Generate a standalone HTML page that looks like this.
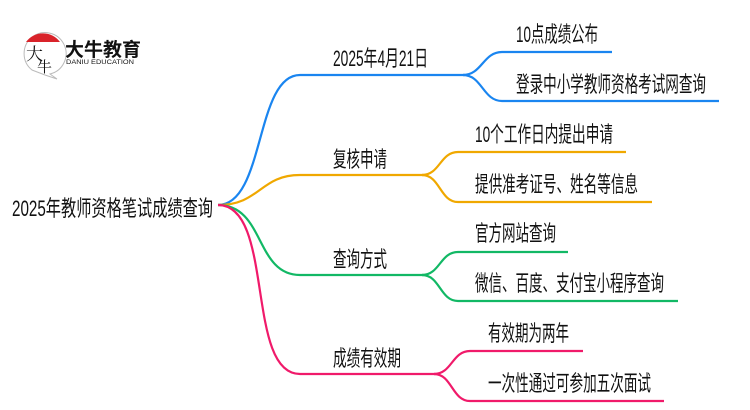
<!DOCTYPE html>
<html><head><meta charset="utf-8"><style>
html,body{margin:0;padding:0;background:#fff;width:750px;height:410px;overflow:hidden}
text{font-family:"Liberation Sans","Noto Sans CJK SC",sans-serif;fill:#111}
</style></head><body>
<svg width="750" height="410" viewBox="0 0 750 410" xmlns="http://www.w3.org/2000/svg">
<g>
<path d="M32 70 A21 21 0 1 1 50 74 L57 79 L45 75 Z" fill="#fff" stroke="#bbb" stroke-width="1"/>
<path d="M26 42 A21 21 0 0 1 60 42 Z" fill="#d9232a"/>
<text x="26" y="60" font-size="17" style="font-family:'Noto Serif CJK SC',serif">大</text>
<text x="37" y="72" font-size="15" style="font-family:'Noto Serif CJK SC',serif">牛</text>
<text x="65" y="56" font-size="19" font-weight="bold" fill="#222">大牛教育</text>
<text x="66" y="64" font-size="6.5" fill="#333" textLength="68" lengthAdjust="spacingAndGlyphs">DANIU EDUCATION</text>
</g>
<g fill="none" stroke-width="2.2">
<path d="M218 205 C265 205 255 75 300 75 H465" stroke="#1a85f0"/>
<path d="M463 75 C482 75 483 52 502 52 H612" stroke="#1a85f0"/>
<path d="M463 75 C482 75 483 101 502 101 H719" stroke="#1a85f0"/>
<path d="M218 205 C260 205 260 175 300 175 H425" stroke="#f0a800"/>
<path d="M422 175 C440 175 440 152 458 152 H626" stroke="#f0a800"/>
<path d="M422 175 C440 175 440 202 458 202 H652" stroke="#f0a800"/>
<path d="M218 205 C265 205 255 275 300 275 H425" stroke="#12b865"/>
<path d="M422 275 C440 275 440 252 458 252 H568" stroke="#12b865"/>
<path d="M422 275 C440 275 440 301 458 301 H678" stroke="#12b865"/>
<path d="M218 205 C275 205 245 374 300 374 H437" stroke="#f01a6a"/>
<path d="M434 374 C452 374 452 351 470 351 H583" stroke="#f01a6a"/>
<path d="M434 374 C452 374 452 401 470 401 H664" stroke="#f01a6a"/>
</g>
<g font-size="22">
<text x="12" y="216" textLength="201" lengthAdjust="spacingAndGlyphs">2025年教师资格笔试成绩查询</text>
<text x="333" y="66" textLength="95" lengthAdjust="spacingAndGlyphs">2025年4月21日</text>
<text x="333" y="167" textLength="54" lengthAdjust="spacingAndGlyphs">复核申请</text>
<text x="333" y="267" textLength="54" lengthAdjust="spacingAndGlyphs">查询方式</text>
<text x="333" y="366" textLength="68" lengthAdjust="spacingAndGlyphs">成绩有效期</text>
</g>
<g font-size="22">
<text x="516" y="42" textLength="82" lengthAdjust="spacingAndGlyphs">10点成绩公布</text>
<text x="516" y="92" textLength="190" lengthAdjust="spacingAndGlyphs">登录中小学教师资格考试网查询</text>
<text x="475" y="142" textLength="138" lengthAdjust="spacingAndGlyphs">10个工作日内提出申请</text>
<text x="475" y="192" textLength="163" lengthAdjust="spacingAndGlyphs">提供准考证号、姓名等信息</text>
<text x="475" y="241" textLength="81" lengthAdjust="spacingAndGlyphs">官方网站查询</text>
<text x="475" y="291" textLength="189" lengthAdjust="spacingAndGlyphs">微信、百度、支付宝小程序查询</text>
<text x="488" y="341" textLength="81" lengthAdjust="spacingAndGlyphs">有效期为两年</text>
<text x="488" y="391" textLength="163" lengthAdjust="spacingAndGlyphs">一次性通过可参加五次面试</text>
</g>
</svg>
</body></html>
